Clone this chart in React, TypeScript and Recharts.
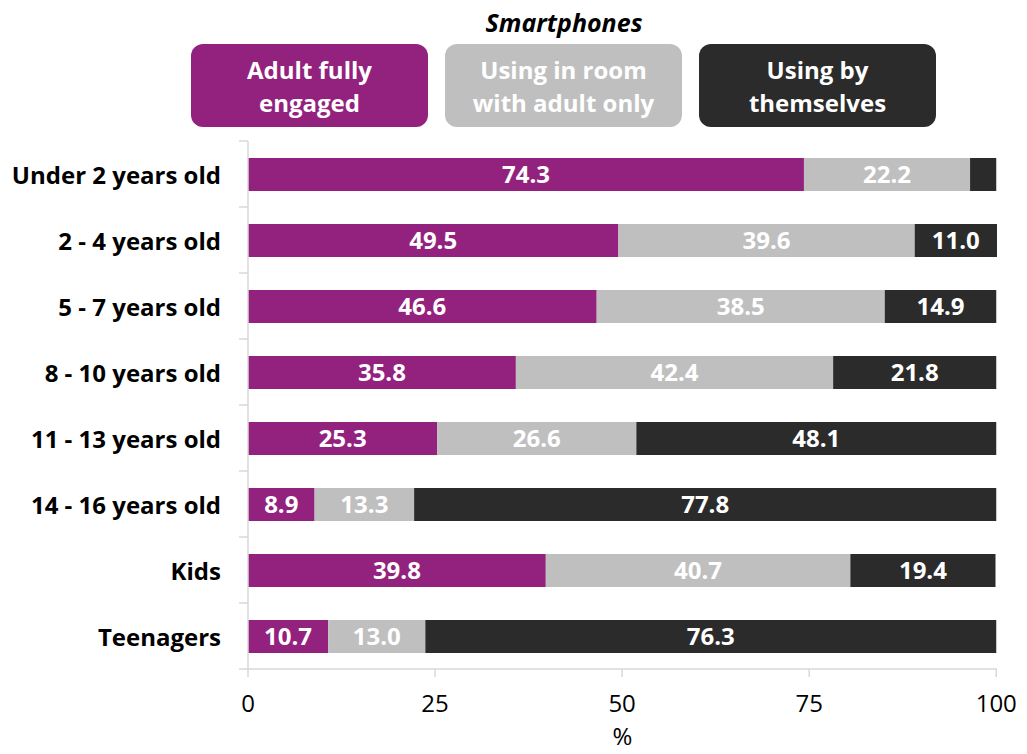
import { BarChart, Bar, XAxis, YAxis, LabelList, Label } from "recharts";

const categories = [
  "Under 2 years old",
  "2 - 4 years old",
  "5 - 7 years old",
  "8 - 10 years old",
  "11 - 13 years old",
  "14 - 16 years old",
  "Kids",
  "Teenagers",
];

const adultEngaged = [74.3, 49.5, 46.6, 35.8, 25.3, 8.9, 39.8, 10.7];
const inRoomWithAdult = [22.2, 39.6, 38.5, 42.4, 26.6, 13.3, 40.7, 13.0];
const byThemselves = [3.5, 11.0, 14.9, 21.8, 48.1, 77.8, 19.4, 76.3];

const xTicks = [0, 25, 50, 75, 100];

const series = [
  { key: "engaged", name: "Adult fully\nengaged", color: "#93227F" },
  { key: "room", name: "Using in room\nwith adult only", color: "#BFBFBF" },
  { key: "alone", name: "Using by\nthemselves", color: "#2B2B2B" },
];

const data = categories.map((cat, i) => ({
  cat,
  engaged: adultEngaged[i],
  room: inRoomWithAdult[i],
  alone: byThemselves[i],
}));

const FONT = "'Open Sans', Lato, sans-serif";
const AXIS = "#d9d9d9";
const HALF_BAND = 33;

interface TickProps {
  x?: number | string;
  y?: number | string;
  index?: number;
  payload?: { value: string };
}

function CategoryTick(props: TickProps) {
  const x = Number(props.x ?? 0);
  const y = Number(props.y ?? 0);
  const last = props.index === categories.length - 1;
  return (
    <g>
      <line x1={x + 18} x2={x + 27} y1={y - HALF_BAND} y2={y - HALF_BAND} stroke={AXIS} strokeWidth={1.5} />
      {last && (
        <line x1={x + 18} x2={x + 27} y1={y + HALF_BAND} y2={y + HALF_BAND} stroke={AXIS} strokeWidth={1.5} />
      )}
      <text
        x={x}
        y={y}
        textAnchor="end"
        dominantBaseline="central"
        fontSize={24}
        fontWeight="bold"
        fontFamily={FONT}
        fill="#000"
      >
        {props.payload?.value}
      </text>
    </g>
  );
}

function fmt(v: unknown) {
  const n = Number(v);
  return n < 5 ? "" : n.toFixed(1);
}

export default function App() {
  return (
    <div style={{ position: "absolute", left: 0, top: 0, width: 1027, height: 754, fontFamily: FONT }}>
      <div
        style={{
          position: "absolute",
          left: 191,
          width: 746,
          top: 5,
          textAlign: "center",
          fontSize: 25,
          fontWeight: "bold",
          fontStyle: "italic",
          lineHeight: "34px",
        }}
      >
        Smartphones
      </div>
      <div style={{ position: "absolute", left: 191, top: 44, display: "flex", gap: 17 }}>
        {series.map(s => (
          <div
            key={s.key}
            style={{
              width: 237,
              height: 83,
              borderRadius: 12,
              background: s.color,
              color: "#fff",
              fontSize: 24,
              fontWeight: "bold",
              lineHeight: "33px",
              display: "flex",
              alignItems: "center",
              justifyContent: "center",
              textAlign: "center",
              whiteSpace: "pre-line",
            }}
          >
            {s.name}
          </div>
        ))}
      </div>
      <BarChart
        width={1027}
        height={754}
        data={data}
        layout="vertical"
        margin={{ top: 141, right: 30, bottom: 0, left: 0 }}
      >
        <XAxis
          type="number"
          domain={[0, 100]}
          ticks={xTicks}
          height={85}
          axisLine={{ stroke: AXIS, strokeWidth: 1.5 }}
          tickLine={{ stroke: AXIS, strokeWidth: 1.5 }}
          tickSize={8}
          tickMargin={18}
          tick={{ fill: "#000", fontSize: 24, fontFamily: FONT }}
        >
          <Label value="%" position="insideBottom" offset={9} fill="#000" fontSize={24} fontFamily={FONT} />
        </XAxis>
        <YAxis
          type="category"
          dataKey="cat"
          width={248}
          axisLine={{ stroke: AXIS, strokeWidth: 1.5 }}
          tickLine={false}
          tickSize={0}
          tickMargin={27}
          interval={0}
          tick={CategoryTick}
        />
        {series.map(s => (
          <Bar key={s.key} dataKey={s.key} stackId="a" fill={s.color} barSize={33} isAnimationActive={false}>
            <LabelList
              dataKey={s.key}
              position="center"
              formatter={fmt}
              fill="#fff"
              fontSize={24}
              fontWeight="bold"
              fontFamily={FONT}
            />
          </Bar>
        ))}
      </BarChart>
    </div>
  );
}
